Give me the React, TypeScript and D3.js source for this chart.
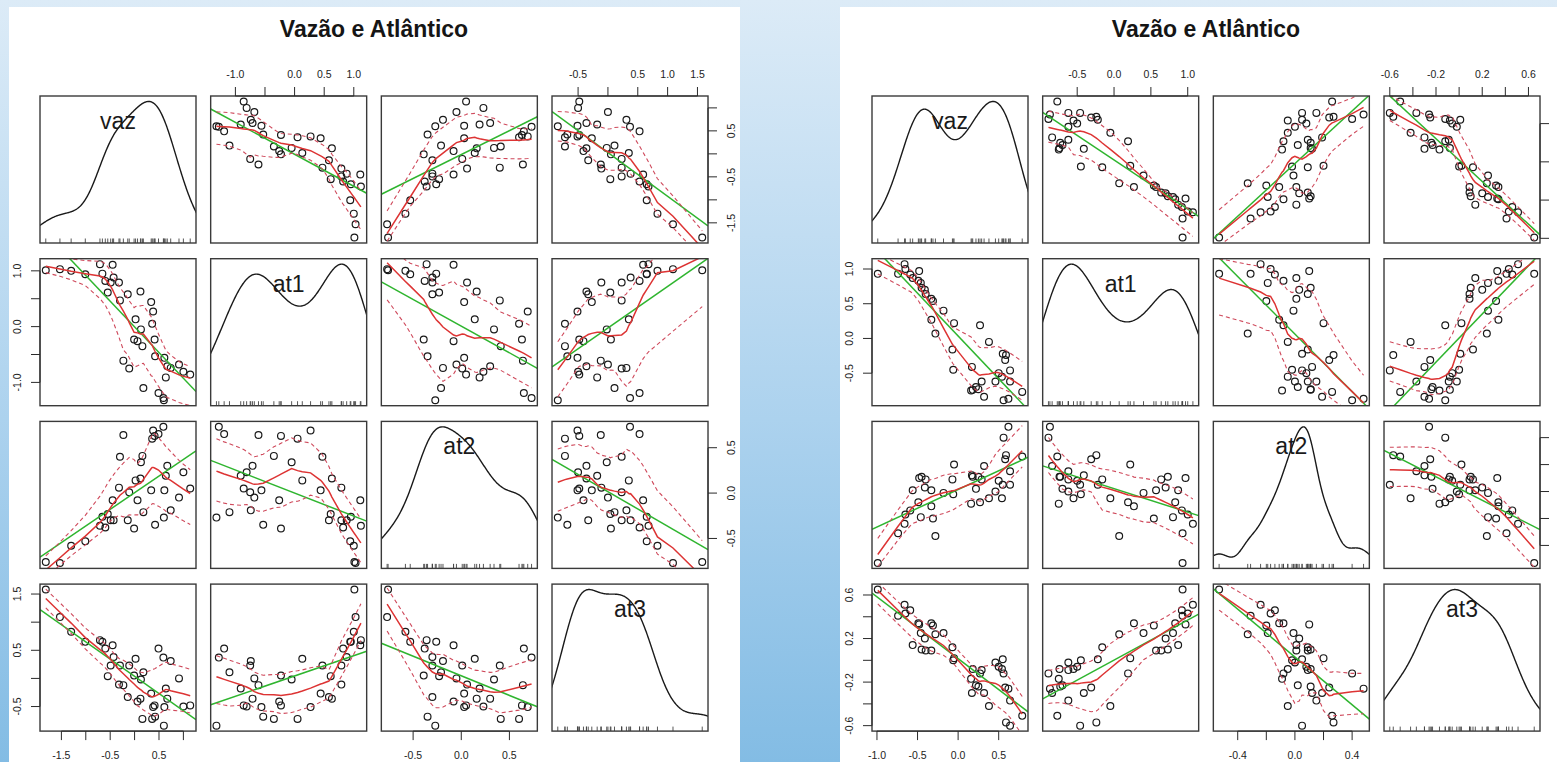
import { useEffect, useRef } from "react"
import * as d3 from "d3"

const W = 1557
const H = 762

const varNames = ["vaz", "at1", "at2", "at3"]

// left matrix: one value per year, same order in every array
const leftVaz = [-1.82, -1.53, -1.3, -1.01, -0.71, -0.66, -0.6, -0.55, -0.49, -0.45, -0.43, -0.32, -0.3, -0.23, -0.14, -0.11, -0.01, 0.02, 0.06, 0.12, 0.13, 0.16, 0.18, 0.34, 0.36, 0.38, 0.41, 0.42, 0.49, 0.59, 0.6, 0.61, 0.64, 0.67, 0.74, 0.91, 1.0, 1.14]
const leftAt1 = [1.01, 1.03, 1.0, 0.94, 1.12, 0.95, 0.82, 0.61, 0.79, 1.11, 0.88, 0.79, 0.47, -0.61, 0.58, -0.75, -0.23, 0.13, -0.26, 0.63, -0.05, -0.35, -1.1, 0.44, 0.05, 0.27, -0.23, -0.53, -1.19, -1.28, -1.32, -0.56, -0.91, -0.71, -0.74, -0.68, -0.81, -0.86]
const leftAt2 = [-0.76, -0.77, -0.58, -0.53, -0.36, -0.26, -0.38, -0.23, -0.3, -0.08, -0.3, 0.06, 0.4, 0.64, -0.3, 0.01, -0.39, 0.14, -0.08, 0.16, 0.34, 0.41, -0.21, 0.03, 0.6, 0.69, 0.63, -0.35, 0.65, 0.73, -0.27, 0.03, 0.19, 0.3, -0.19, -0.05, 0.23, 0.05]
const leftAt3 = [1.58, 1.09, 0.83, 0.65, 0.68, 0.65, 0.53, 0.04, 0.23, 0.59, 0.38, -0.11, 0.23, -0.12, -0.33, 0.23, 0.05, 0.35, -0.41, -0.36, -0.02, -0.72, 0.11, -0.27, -0.72, -0.51, -0.48, -0.68, 0.53, 0.37, -0.84, -0.51, -0.18, -0.36, 0.31, 0.0, -0.5, -0.48]

// right matrix
const rightVaz = [-0.99, -0.74, -0.66, -0.65, -0.59, -0.56, -0.49, -0.48, -0.46, -0.45, -0.41, -0.4, -0.33, -0.33, -0.31, -0.28, -0.18, -0.07, -0.06, -0.05, 0.16, 0.17, 0.18, 0.22, 0.25, 0.27, 0.29, 0.32, 0.38, 0.46, 0.5, 0.54, 0.55, 0.56, 0.58, 0.59, 0.62, 0.64, 0.64, 0.79]
const rightAt1 = [0.93, 0.93, 1.07, 1.0, 0.92, 0.87, 0.83, 0.97, 0.8, 0.73, 0.7, 0.64, 0.57, 0.27, 0.54, 0.07, 0.4, -0.16, -0.45, 0.22, -0.75, -0.41, -0.74, -0.7, -0.73, 0.19, -0.62, -0.84, -0.05, -0.62, -0.5, -0.55, -0.22, -0.89, -0.31, -0.24, -0.87, -0.46, -0.62, -0.77]
const rightAt2 = [-0.53, -0.31, -0.24, -0.17, -0.14, 0.01, -0.08, 0.1, -0.19, 0.11, 0.03, 0.09, 0.01, -0.11, -0.2, -0.33, -0.01, 0.09, -0.02, 0.2, -0.09, 0.12, 0.11, 0.02, 0.11, -0.08, 0.09, 0.19, -0.05, 0.0, 0.08, -0.05, 0.05, 0.4, 0.24, 0.27, 0.48, 0.05, 0.15, 0.26]
const rightAt3 = [0.65, 0.41, 0.51, 0.43, 0.46, 0.14, 0.34, 0.33, 0.25, 0.1, 0.2, 0.09, 0.09, 0.34, 0.32, 0.24, 0.25, 0.12, 0.0, 0.02, -0.17, -0.3, -0.08, -0.23, -0.24, -0.12, -0.09, -0.3, -0.42, -0.02, -0.06, -0.08, 0.01, -0.12, -0.25, -0.57, -0.26, -0.6, -0.37, -0.51]

// tick values and which of them get a label (top/bottom axis, then side axis)
const leftTicks = [
  [-1.5, -1, -0.5, 0, 0.5, 1],
  [-1, -0.5, 0, 0.5, 1],
  [-0.5, 0, 0.5],
  [-0.5, 0, 0.5, 1, 1.5],
]
const leftXLabels = [[-1.5, -0.5, 0.5], [-1, 0, 0.5, 1], [-0.5, 0, 0.5], [-0.5, 0.5, 1, 1.5]]
const leftYLabels = [[-1.5, -0.5, 0.5], [-1, 0, 1], [-0.5, 0, 0.5], [-0.5, 0.5, 1.5]]

const rightTicks = [
  [-1, -0.5, 0, 0.5],
  [-0.5, 0, 0.5, 1],
  [-0.4, -0.2, 0, 0.2, 0.4],
  [-0.6, -0.4, -0.2, 0, 0.2, 0.4, 0.6],
]
const rightXLabels = [[-1, -0.5, 0, 0.5], [-0.5, 0, 0.5, 1], [-0.4, 0, 0.4], [-0.6, -0.2, 0.2, 0.6]]
// the right-hand side labels of this matrix fall outside the picture
const rightYLabels: number[][] = [[], [-0.5, 0, 0.5, 1], [], [-0.6, -0.2, 0.2, 0.6]]

const TITLE = "Vazão e Atlântico"

const PW = 156
const PH = 147
const COL_STEP = 170.67
const ROW_STEP = 162.7
const TOP = 96
const FONT = "'Liberation Sans', Arial, sans-serif"

const GREEN = "#2fb52f"
const RED = "#dd3434"
const RED_DASH = "#cf4a5c"

// local weighted regression (tricube), degree 0 or 1
function localFit(xs: number[], ys: number[], x0: number, span: number, degree: number) {
  const n = xs.length
  const q = Math.max(2, Math.min(n, Math.floor(span * n)))
  const dist = xs.map((x) => Math.abs(x - x0))
  const sorted = dist.slice().sort(d3.ascending)
  let h = sorted[q - 1]
  if (h <= 0) h = 1e-9
  h *= 1.0001
  let sw = 0, swx = 0, swy = 0, swxx = 0, swxy = 0
  for (let i = 0; i < n; i++) {
    const u = dist[i] / h
    if (u >= 1) continue
    const w = Math.pow(1 - u * u * u, 3)
    sw += w
    swx += w * xs[i]
    swy += w * ys[i]
    swxx += w * xs[i] * xs[i]
    swxy += w * xs[i] * ys[i]
  }
  if (sw === 0) return d3.mean(ys) as number
  if (degree === 0) return swy / sw
  const den = sw * swxx - swx * swx
  if (Math.abs(den) < 1e-12) return swy / sw
  const b = (sw * swxy - swx * swy) / den
  const a = (swy - b * swx) / sw
  return a + b * x0
}

function smoothWithSpread(xs: number[], ys: number[]) {
  const span = 0.5
  const grid = Array.from(new Set(xs)).sort(d3.ascending)
  const fitted = xs.map((x) => localFit(xs, ys, x, span, 1))
  const res = ys.map((y, i) => y - fitted[i])
  const px: number[] = [], pr: number[] = [], nx: number[] = [], nr: number[] = []
  res.forEach((r, i) => {
    if (r > 0) { px.push(xs[i]); pr.push(r * r) } else { nx.push(xs[i]); nr.push(r * r) }
  })
  const mid = grid.map((x) => [x, localFit(xs, ys, x, span, 1)] as [number, number])
  const upper = mid.map(([x, y]) => [x, y + Math.sqrt(Math.max(0, localFit(px, pr, x, span, 0)))] as [number, number])
  const lower = mid.map(([x, y]) => [x, y - Math.sqrt(Math.max(0, localFit(nx, nr, x, span, 0)))] as [number, number])
  return { mid, upper, lower }
}

function linearFit(xs: number[], ys: number[]) {
  const mx = d3.mean(xs) as number
  const my = d3.mean(ys) as number
  let sxy = 0, sxx = 0
  xs.forEach((x, i) => { sxy += (x - mx) * (ys[i] - my); sxx += (x - mx) * (x - mx) })
  const b = sxy / sxx
  return { a: my - b * mx, b }
}

function kde(values: number[]) {
  const n = values.length
  const sorted = values.slice().sort(d3.ascending)
  const sd = d3.deviation(values) as number
  const iqr = (d3.quantileSorted(sorted, 0.75) as number) - (d3.quantileSorted(sorted, 0.25) as number)
  const bw = 0.9 * Math.min(sd, iqr / 1.34) * Math.pow(n, -0.2)
  const lo = sorted[0] - 3 * bw
  const hi = sorted[n - 1] + 3 * bw
  return d3.range(512).map((k) => {
    const x = lo + ((hi - lo) * k) / 511
    const y = d3.sum(values, (v) => Math.exp(-0.5 * ((x - v) / bw) ** 2)) / (n * bw * Math.sqrt(2 * Math.PI))
    return [x, y] as [number, number]
  })
}

const fmt = (v: number) => v.toFixed(1)

interface MatrixSpec {
  id: string
  x0: number
  data: number[][]
  ticks: number[][]
  xLabels: number[][]
  yLabels: number[][]
}

function drawMatrix(svg: d3.Selection<SVGSVGElement, unknown, null, undefined>, m: MatrixSpec) {
  const colX = (j: number) => m.x0 + j * COL_STEP
  const rowY = (i: number) => TOP + i * ROW_STEP
  const g = svg.append("g")

  const padded = (vals: number[]) => {
    const [a, b] = d3.extent(vals) as [number, number]
    const r = b - a
    return [a - 0.04 * r, b + 0.04 * r]
  }
  const xs = m.data.map((v, k) => d3.scaleLinear().domain(padded(v)).range([colX(k), colX(k) + PW]))
  const ys = m.data.map((v, k) => d3.scaleLinear().domain(padded(v)).range([rowY(k) + PH, rowY(k)]))

  g.append("text")
    .attr("x", m.x0 + (3 * COL_STEP + PW) / 2)
    .attr("y", 37)
    .attr("text-anchor", "middle")
    .attr("font-family", FONT)
    .attr("font-weight", "bold")
    .attr("font-size", "23px")
    .attr("fill", "#151515")
    .text(TITLE)

  for (let i = 0; i < 4; i++) {
    for (let j = 0; j < 4; j++) {
      const px = colX(j)
      const py = rowY(i)
      const clipId = `clip-${m.id}-${i}-${j}`
      g.append("clipPath").attr("id", clipId).append("rect").attr("x", px).attr("y", py).attr("width", PW).attr("height", PH)
      const panel = g.append("g")
      const inner = panel.append("g").attr("clip-path", `url(#${clipId})`)

      if (i === j) {
        const vals = m.data[i]
        const dens = kde(vals)
        const [dMin, dMax] = d3.extent(dens, (d) => d[1]) as [number, number]
        const dr = dMax - dMin
        const dy = d3.scaleLinear().domain([dMin - 0.04 * dr, dMax + 0.04 * dr]).range([py + PH, py])
        inner
          .append("path")
          .attr("d", d3.line<[number, number]>().x((d) => xs[i](d[0])).y((d) => dy(d[1]))(dens))
          .attr("fill", "none")
          .attr("stroke", "#1a1a1a")
          .attr("stroke-width", 1.4)
        inner
          .selectAll(null)
          .data(vals)
          .enter()
          .append("line")
          .attr("x1", (d) => xs[i](d))
          .attr("x2", (d) => xs[i](d))
          .attr("y1", py + PH)
          .attr("y2", py + PH - 4.5)
          .attr("stroke", "#444")
          .attr("stroke-width", 0.9)
        panel
          .append("text")
          .attr("x", px + PW / 2)
          .attr("y", py + 33)
          .attr("text-anchor", "middle")
          .attr("font-family", FONT)
          .attr("font-size", "23px")
          .attr("fill", "#1a1a1a")
          .text(varNames[i])
      } else {
        const xv = m.data[j]
        const yv = m.data[i]
        const sx = xs[j]
        const sy = ys[i]
        inner
          .selectAll(null)
          .data(xv)
          .enter()
          .append("circle")
          .attr("cx", (d) => sx(d))
          .attr("cy", (_, k) => sy(yv[k]))
          .attr("r", 3.4)
          .attr("fill", "none")
          .attr("stroke", "#1a1a1a")
          .attr("stroke-width", 1.2)

        const lf = linearFit(xv, yv)
        const [x1, x2] = sx.domain()
        inner
          .append("line")
          .attr("x1", sx(x1))
          .attr("x2", sx(x2))
          .attr("y1", sy(lf.a + lf.b * x1))
          .attr("y2", sy(lf.a + lf.b * x2))
          .attr("stroke", GREEN)
          .attr("stroke-width", 1.5)

        const sm = smoothWithSpread(xv, yv)
        const line = d3.line<[number, number]>().x((d) => sx(d[0])).y((d) => sy(d[1]))
        inner.append("path").attr("d", line(sm.mid)).attr("fill", "none").attr("stroke", RED).attr("stroke-width", 1.5)
        ;[sm.upper, sm.lower].forEach((s) => {
          inner
            .append("path")
            .attr("d", line(s))
            .attr("fill", "none")
            .attr("stroke", RED_DASH)
            .attr("stroke-width", 1.1)
            .attr("stroke-dasharray", "4,3")
        })
      }

      panel
        .append("rect")
        .attr("x", px)
        .attr("y", py)
        .attr("width", PW)
        .attr("height", PH)
        .attr("fill", "none")
        .attr("stroke", "#3a3a3a")
        .attr("stroke-width", 1.4)
    }
  }

  // axes: x axis on top for columns 2 and 4, bottom for 1 and 3; y axis left for rows 2 and 4, right for 1 and 3
  const axisColor = "#2a2a2a"
  for (let k = 0; k < 4; k++) {
    const ticks = m.ticks[k]
    const top = k % 2 === 1
    const yEdge = top ? rowY(0) : rowY(3) + PH
    const dir = top ? -1 : 1
    const ax = g.append("g")
    ax.append("line")
      .attr("x1", xs[k](ticks[0]))
      .attr("x2", xs[k](ticks[ticks.length - 1]))
      .attr("y1", yEdge)
      .attr("y2", yEdge)
      .attr("stroke", axisColor)
    ax.selectAll(null)
      .data(ticks)
      .enter()
      .append("line")
      .attr("x1", (d) => xs[k](d))
      .attr("x2", (d) => xs[k](d))
      .attr("y1", yEdge)
      .attr("y2", yEdge + dir * 9)
      .attr("stroke", axisColor)
    ax.selectAll(null)
      .data(m.xLabels[k])
      .enter()
      .append("text")
      .attr("x", (d) => xs[k](d))
      .attr("y", top ? yEdge - 18 : yEdge + 28)
      .attr("text-anchor", "middle")
      .attr("font-family", FONT)
      .attr("font-size", "10.5px")
      .attr("fill", "#222")
      .text((d) => fmt(d))

    const left = k % 2 === 1
    const xEdge = left ? colX(0) : colX(3) + PW
    const hd = left ? -1 : 1
    const ay = g.append("g")
    ay.append("line")
      .attr("y1", ys[k](ticks[0]))
      .attr("y2", ys[k](ticks[ticks.length - 1]))
      .attr("x1", xEdge)
      .attr("x2", xEdge)
      .attr("stroke", axisColor)
    ay.selectAll(null)
      .data(ticks)
      .enter()
      .append("line")
      .attr("y1", (d) => ys[k](d))
      .attr("y2", (d) => ys[k](d))
      .attr("x1", xEdge)
      .attr("x2", xEdge + hd * 9)
      .attr("stroke", axisColor)
    ay.selectAll(null)
      .data(m.yLabels[k])
      .enter()
      .append("text")
      .attr("transform", (d) => `translate(${left ? xEdge - 19 : xEdge + 27},${ys[k](d)}) rotate(-90)`)
      .attr("text-anchor", "middle")
      .attr("font-family", FONT)
      .attr("font-size", "10.5px")
      .attr("fill", "#222")
      .text((d) => fmt(d))
  }
}

export default function App() {
  const svgRef = useRef<SVGSVGElement>(null)

  useEffect(() => {
    if (!svgRef.current) return
    const svg = d3.select(svgRef.current)
    svg.selectAll("*").remove()

    const defs = svg.append("defs")
    const grad = defs.append("linearGradient").attr("id", "bg").attr("x1", 0).attr("y1", 0).attr("x2", 0).attr("y2", 1)
    grad.append("stop").attr("offset", "0%").attr("stop-color", "#dcebf7")
    grad.append("stop").attr("offset", "55%").attr("stop-color", "#acd2ee")
    grad.append("stop").attr("offset", "100%").attr("stop-color", "#83bce4")

    svg.append("rect").attr("width", W).attr("height", H).attr("fill", "url(#bg)")
    svg.append("rect").attr("x", 9).attr("y", 7).attr("width", 731).attr("height", H - 7).attr("fill", "#fff")
    svg.append("rect").attr("x", 840).attr("y", 7).attr("width", W - 840).attr("height", H - 7).attr("fill", "#fff")

    drawMatrix(svg, {
      id: "l",
      x0: 40,
      data: [leftVaz, leftAt1, leftAt2, leftAt3],
      ticks: leftTicks,
      xLabels: leftXLabels,
      yLabels: leftYLabels,
    })
    drawMatrix(svg, {
      id: "r",
      x0: 872,
      data: [rightVaz, rightAt1, rightAt2, rightAt3],
      ticks: rightTicks,
      xLabels: rightXLabels,
      yLabels: rightYLabels,
    })
  }, [])

  return <svg ref={svgRef} width={W} height={H} style={{ position: "absolute", left: 0, top: 0, display: "block" }} />
}
